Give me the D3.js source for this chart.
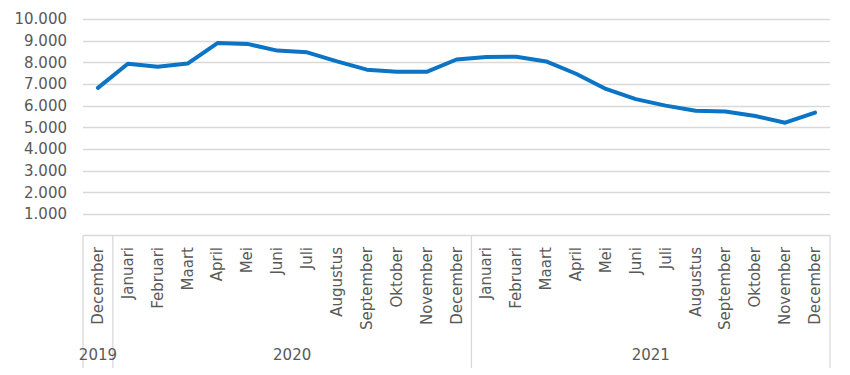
<!DOCTYPE html>
<html>
<head>
<meta charset="utf-8">
<script src="https://cdn.jsdelivr.net/npm/d3@7"></script>
<style>
  body { margin: 0; background: #fff; }
  text { font-family: "DejaVu Sans", Verdana, sans-serif; fill: #595959; }
</style>
</head>
<body>
<div id="chart"></div>
<script>
// DATA
var months = ["December",
  "Januari", "Februari", "Maart", "April", "Mei", "Juni", "Juli", "Augustus", "September", "Oktober", "November", "December",
  "Januari", "Februari", "Maart", "April", "Mei", "Juni", "Juli", "Augustus", "September", "Oktober", "November", "December"];
var years = ["2019", "2020", "2021"];
var yearCounts = [1, 12, 12];
var values = [6820,
  7930, 7790, 7940, 8890, 8850, 8540, 8460, 8040, 7660, 7560, 7560, 8130,
  8250, 8260, 8040, 7470, 6770, 6300, 6000, 5760, 5730, 5520, 5210, 5680];
var yTicks = [1000, 2000, 3000, 4000, 5000, 6000, 7000, 8000, 9000, 10000];

var svgWidth = 850, svgHeight = 375;
var plotLeft = 83, plotRight = 830, plotTop = 19, plotBottom = 235.5;

var svg = d3.select("#chart").append("svg")
  .attr("width", svgWidth)
  .attr("height", svgHeight);

var x = d3.scaleBand()
  .domain(d3.range(months.length))
  .range([plotLeft, plotRight]);

var y = d3.scaleLinear()
  .domain([0, 10000])
  .range([plotBottom, plotTop]);

// gridlines
svg.append("g").selectAll("line")
  .data(yTicks)
  .enter().append("line")
  .attr("x1", plotLeft).attr("x2", plotRight)
  .attr("y1", d => Math.round(y(d)) + 0.5)
  .attr("y2", d => Math.round(y(d)) + 0.5)
  .attr("stroke", "#d9d9d9")
  .attr("stroke-width", 1.3);

// y labels
var fmt = d3.formatLocale({decimal: ",", thousands: ".", grouping: [3], currency: ["", ""]}).format(",d");
svg.append("g").selectAll("text")
  .data(yTicks)
  .enter().append("text")
  .attr("x", 67)
  .attr("y", d => y(d))
  .attr("dy", "0.36em")
  .attr("text-anchor", "end")
  .attr("font-size", 15)
  .text(d => fmt(d));

// category axis box
var axisG = svg.append("g").attr("stroke", "#d9d9d9").attr("stroke-width", 1.3);
axisG.append("line")
  .attr("x1", plotLeft).attr("x2", plotRight)
  .attr("y1", plotBottom).attr("y2", plotBottom);

var starts = [0];
yearCounts.forEach(function(c, i) { starts.push(starts[i] + c); });
axisG.selectAll("line.sep")
  .data(starts)
  .enter().append("line")
  .attr("class", "sep")
  .attr("x1", d => d < months.length ? x(d) : plotRight)
  .attr("x2", d => d < months.length ? x(d) : plotRight)
  .attr("y1", plotBottom).attr("y2", 368);

// month labels
svg.append("g").selectAll("text")
  .data(months)
  .enter().append("text")
  .attr("transform", (d, i) => `translate(${x(i) + x.bandwidth() / 2 + 5}, 247) rotate(-90)`)
  .attr("text-anchor", "end")
  .attr("font-size", 15)
  .text(d => d);

// year labels
svg.append("g").selectAll("text")
  .data(years)
  .enter().append("text")
  .attr("x", (d, i) => {
    var a = x(starts[i]);
    var b = starts[i + 1] < months.length ? x(starts[i + 1]) : plotRight;
    return (a + b) / 2;
  })
  .attr("y", 360)
  .attr("text-anchor", "middle")
  .attr("font-size", 15)
  .text(d => d);

// line
var line = d3.line()
  .x((d, i) => x(i) + x.bandwidth() / 2)
  .y(d => y(d));

svg.append("path")
  .datum(values)
  .attr("d", line)
  .attr("fill", "none")
  .attr("stroke", "#0b74c5")
  .attr("stroke-width", 4)
  .attr("stroke-linejoin", "round")
  .attr("stroke-linecap", "round");
</script>
</body>
</html>
